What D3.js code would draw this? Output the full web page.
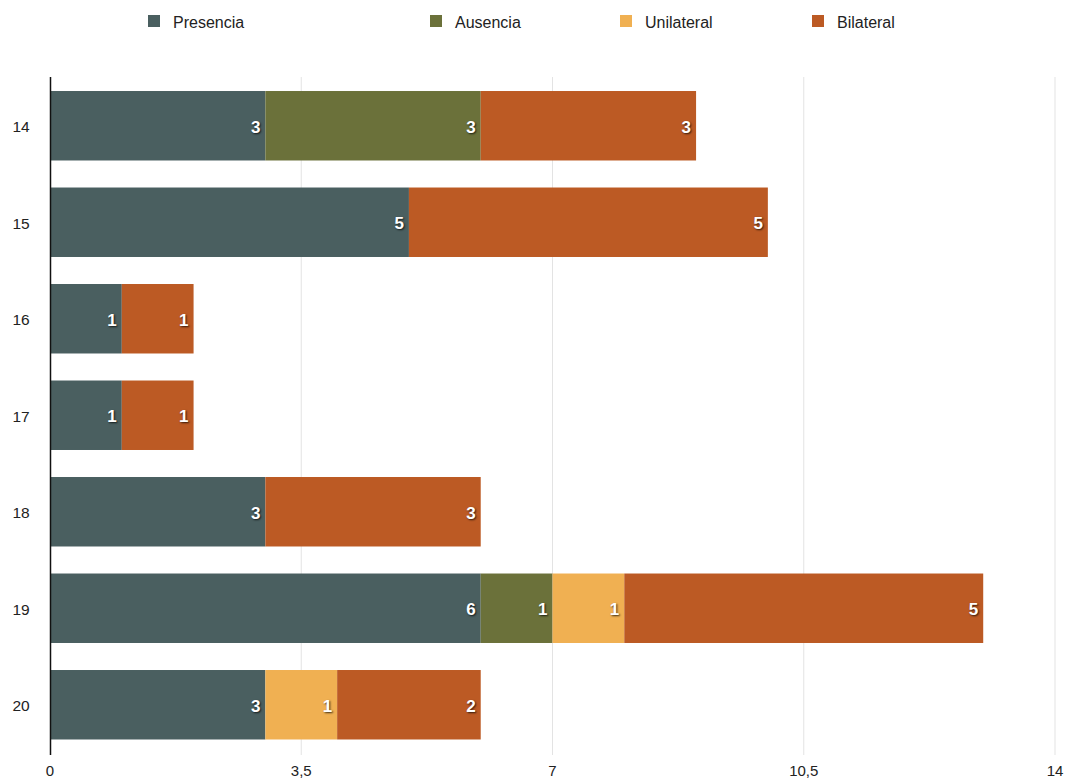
<!DOCTYPE html>
<html><head><meta charset="utf-8">
<script src="https://cdn.jsdelivr.net/npm/d3@7"></script>
<style>
body{margin:0;background:#fff;}
svg text{font-family:"Liberation Sans",Arial,Helvetica,sans-serif;}
</style></head>
<body><svg id="c" width="1067" height="780"></svg>
<script>
const categories = ["14","15","16","17","18","19","20"];
const seriesNames = ["Presencia","Ausencia","Unilateral","Bilateral"];
const presencia  = [3,5,1,1,3,6,3];
const ausencia   = [3,0,0,0,0,1,0];
const unilateral = [0,0,0,0,0,1,1];
const bilateral  = [3,5,1,1,3,5,2];
const tickValues = [0,3.5,7,10.5,14];
const colors = ["#4a5f60","#6b713a","#f0b052","#bc5a24"];

const seriesVals = [presencia, ausencia, unilateral, bilateral];
const rows = categories.map((c,i)=>{const o={cat:c}; seriesNames.forEach((s,j)=>o[s]=seriesVals[j][i]); return o;});
const stacked = d3.stack().keys(seriesNames)(rows);

const svg = d3.select("#c");
const x = d3.scaleLinear().domain([0,14]).range([50,1055]);
const y = d3.scaleBand().domain(categories).range([77.5,753]).paddingInner(0.28).paddingOuter(0.14);

// gridlines
svg.append("g").selectAll("line").data(tickValues.filter(v=>v>0)).join("line")
  .attr("x1",d=>x(d)).attr("x2",d=>x(d)).attr("y1",77).attr("y2",755)
  .attr("stroke","#e3e3e3").attr("stroke-width",1);

// bars
const g = svg.append("g");
stacked.forEach((layer,li)=>{
  g.append("g").selectAll("rect").data(layer.filter(d=>d[1]-d[0]>0)).join("rect")
    .attr("x",d=>x(d[0])).attr("width",d=>x(d[1])-x(d[0]))
    .attr("y",d=>y(d.data.cat)).attr("height",y.bandwidth())
    .attr("fill",colors[li]);
});
// value labels
stacked.forEach((layer,li)=>{
  g.append("g").selectAll("text").data(layer.filter(d=>d[1]-d[0]>0)).join("text")
    .attr("x",d=>x(d[1])-5).attr("y",d=>y(d.data.cat)+y.bandwidth()/2+1)
    .attr("dy","0.36em").attr("text-anchor","end")
    .attr("fill","#fff").attr("font-size",17).attr("font-weight","bold")
    .style("text-shadow","1px 1px 2px rgba(0,0,0,0.75)")
    .text(d=>d[1]-d[0]);
});

// y axis line
svg.append("line").attr("x1",50.5).attr("x2",50.5).attr("y1",77).attr("y2",755)
  .attr("stroke","#111").attr("stroke-width",1.5);

// y labels
svg.append("g").selectAll("text").data(categories).join("text")
  .attr("x",21).attr("y",d=>y(d)+y.bandwidth()/2+1).attr("dy","0.36em")
  .attr("text-anchor","middle").attr("font-size",15.5).attr("fill","#222").text(d=>d);

// x labels
const fmt = v=>String(v).replace(".",",");
svg.append("g").selectAll("text").data(tickValues).join("text")
  .attr("x",d=>x(d)).attr("y",776).attr("text-anchor","middle")
  .attr("font-size",15).attr("fill","#222").text(fmt);

// legend
const legX = [148,430,620,812];
const leg = svg.append("g").selectAll("g").data(seriesNames).join("g")
  .attr("transform",(d,i)=>`translate(${legX[i]},15)`);
leg.append("rect").attr("width",12).attr("height",12).attr("fill",(d,i)=>colors[i]);
leg.append("text").attr("x",25).attr("y",12.5).attr("font-size",16).attr("fill","#222").text(d=>d);
</script></body></html>
